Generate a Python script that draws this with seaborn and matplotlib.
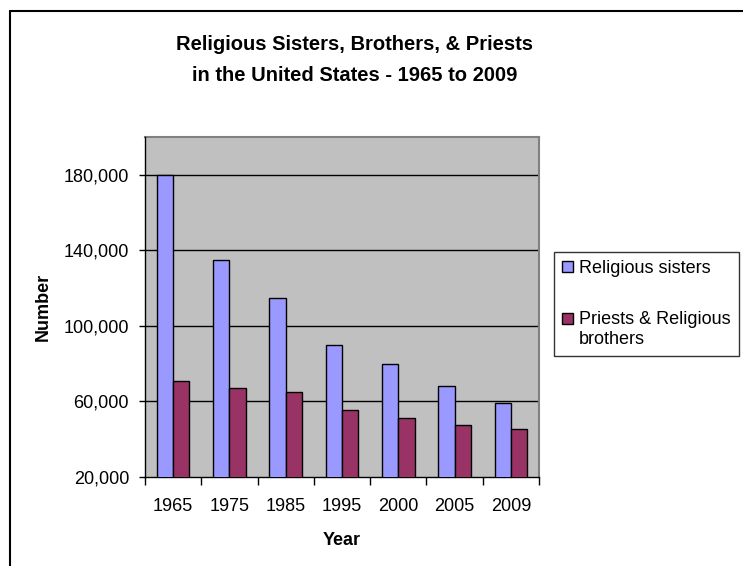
import matplotlib
matplotlib.use("Agg")
import matplotlib.pyplot as plt
import matplotlib.patches as mpatches
from matplotlib.lines import Line2D
from matplotlib.legend_handler import HandlerPatch
import seaborn as sns
import pandas as pd

years = ["1965", "1975", "1985", "1995", "2000", "2005", "2009"]
sisters = [180000, 135000, 115000, 90000, 80000, 68000, 59000]
priests_brothers = [71000, 67000, 65000, 55500, 51000, 47500, 45500]
series_names = ["Religious sisters", "Priests & Religious\nbrothers"]
colors = ["#9999FF", "#993366"]

df = pd.DataFrame({
    "Year": years * 2,
    "Number": sisters + priests_brothers,
    "Series": [series_names[0]] * len(years) + [series_names[1]] * len(years),
})

sns.set_theme(style="white")
plt.rcParams["font.family"] = ["Liberation Sans", "DejaVu Sans"]
plt.rcParams["text.color"] = "black"
plt.rcParams["axes.labelcolor"] = "black"
plt.rcParams["xtick.color"] = "black"
plt.rcParams["ytick.color"] = "black"

FS = 13
W, H = 743, 566
fig = plt.figure(figsize=(W / 100, H / 100), dpi=100)
ax = fig.add_axes([145 / W, 1 - 477 / H, (539 - 145) / W, (477 - 137) / H])
ax.set_facecolor("#C0C0C0")

sns.barplot(data=df, x="Year", y="Number", hue="Series", palette=colors,
            width=0.58, edgecolor="black", linewidth=1.0, saturation=1,
            ax=ax, legend=False, zorder=3)

ax.set_ylim(20000, 200000)
yt = [20000, 60000, 100000, 140000, 180000]
ax.set_yticks(yt)
ax.set_yticklabels([f"{v:,}" for v in yt], fontsize=FS)
for v in yt[1:]:
    ax.axhline(v, color="black", linewidth=1.0, zorder=1)

ax.set_xlim(-0.5, len(years) - 0.5)
ax.set_xticks(range(len(years)))
ax.set_xticklabels(years, fontsize=FS)
ax.set_xticks([i - 0.5 for i in range(len(years) + 1)], minor=True)
ax.tick_params(axis="x", which="major", length=0, pad=15)
ax.tick_params(axis="x", which="minor", length=5.5, width=1, color="black", direction="out", bottom=True)
ax.tick_params(axis="y", which="major", length=4.5, width=1, color="black", direction="out", left=True, pad=7)

for s in ["left", "bottom"]:
    ax.spines[s].set_color("black")
    ax.spines[s].set_linewidth(1.0)
for s in ["top", "right"]:
    ax.spines[s].set_color("#808080")
    ax.spines[s].set_linewidth(1.5)
ax.spines["left"].set_zorder(5)

ax.set_xlabel("Year", fontsize=FS, fontweight="bold")
ax.set_ylabel("Number", fontsize=FS, fontweight="bold")
ax.xaxis.set_label_coords(0.5, (477 - 532) / 340)
ax.yaxis.set_label_coords((52 - 145) / 394, 0.5)

fig.text(355 / W, 1 - 60 / H, "Religious Sisters, Brothers, & Priests\nin the United States - 1965 to 2009",
         ha="center", va="center", fontsize=14.5, fontweight="bold", linespacing=1.75)


class TopAlignedPatch(HandlerPatch):
    def __init__(self, shift, **kw):
        super().__init__(**kw)
        self.shift = shift

    def create_artists(self, legend, orig_handle, xdescent, ydescent, width, height, fontsize, trans):
        p = mpatches.Rectangle((-xdescent, -ydescent + self.shift), width, height,
                               facecolor=orig_handle.get_facecolor(),
                               edgecolor="black", linewidth=1)
        p.set_transform(trans)
        return [p]


handles = [mpatches.Rectangle((0, 0), 1, 1, facecolor=c, edgecolor="black", linewidth=1) for c in colors]
leg = fig.legend(handles, series_names, loc="upper left",
                 bbox_to_anchor=(554 / W, 1 - 252 / H), bbox_transform=fig.transFigure,
                 fontsize=FS, frameon=True, fancybox=False, shadow=False,
                 handlelength=0.6, handleheight=0.6, handletextpad=0.35,
                 labelspacing=1.9, borderpad=0.45, borderaxespad=0,
                 handler_map={handles[1]: TopAlignedPatch(shift=8)})
for t in leg.get_texts():
    t.set_linespacing(1.2)
leg.get_frame().set_edgecolor("black")
leg.get_frame().set_linewidth(1.0)

# outer chart frame
fig.add_artist(Line2D([10 / W, 10 / W], [0, 1 - 11 / H], transform=fig.transFigure, color="black", linewidth=1.5))
fig.add_artist(Line2D([10 / W, 1], [1 - 11 / H, 1 - 11 / H], transform=fig.transFigure, color="black", linewidth=1.5))

fig.savefig("out.png", dpi=100)
